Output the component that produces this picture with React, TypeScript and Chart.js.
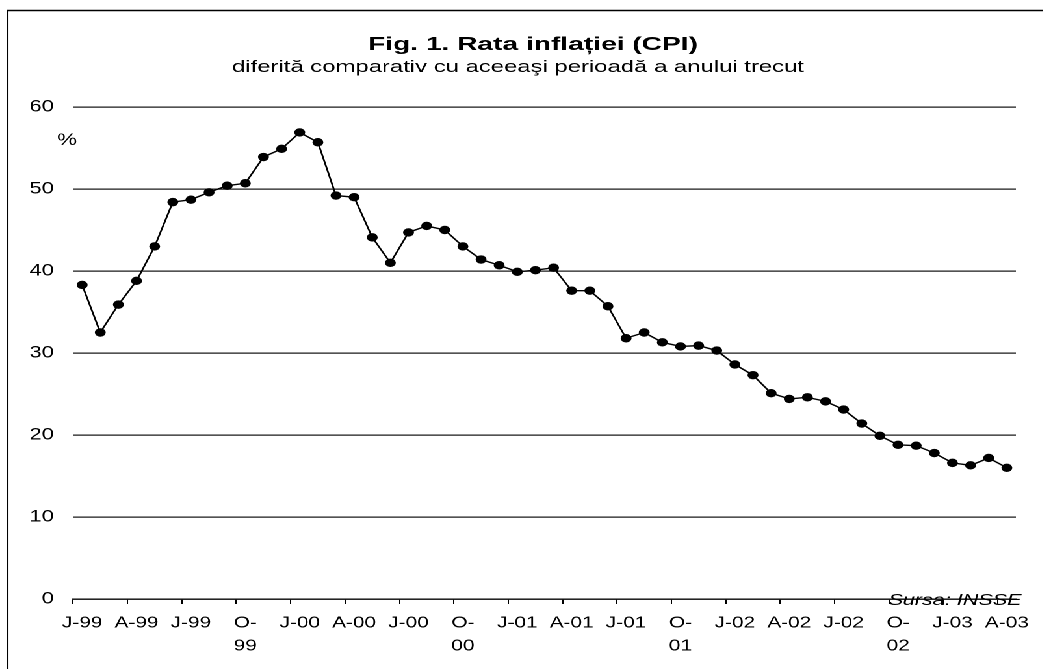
import React, { useEffect, useRef } from 'react';
import { Chart, registerables } from 'chart.js';

Chart.register(...registerables);

// horizontal stretch of the whole picture (the reference is horizontally stretched)
const S = 1.3;
const W = 802;
const H = 669;
const FONT = "Arial, 'Liberation Sans', sans-serif";

const titleText = 'Fig. 1. Rata inflației (CPI)';
const subtitleText = 'diferită comparativ cu aceeaşi perioadă a anului trecut';
const unitText = '%';
const sourceText = 'Sursa: INSSE';

// quarterly tick labels (one every 3 months, Jan 1999 .. Apr 2003)
const quarterLabels: (string | string[])[] = [
  'J-99', 'A-99', 'J-99', ['O-', '99'],
  'J-00', 'A-00', 'J-00', ['O-', '00'],
  'J-01', 'A-01', 'J-01', ['O-', '01'],
  'J-02', 'A-02', 'J-02', ['O-', '02'],
  'J-03', 'A-03',
];

// monthly CPI inflation, % y/y, Jan 1999 .. Apr 2003
const inflation = [
  38.3, 32.5, 35.9, 38.8, 43.0, 48.4, 48.7, 49.6, 50.4, 50.7, 53.9, 54.9,
  56.9, 55.7, 49.2, 49.0, 44.1, 41.0, 44.7, 45.5, 45.0, 43.0, 41.4, 40.7,
  39.9, 40.1, 40.4, 37.6, 37.6, 35.7, 31.8, 32.5, 31.3, 30.8, 30.9, 30.3,
  28.6, 27.3, 25.1, 24.4, 24.6, 24.1, 23.1, 21.4, 19.9, 18.8, 18.7, 17.8,
  16.6, 16.3, 17.2, 16.0,
];

const yMin = 0;
const yMax = 60;
const yStep = 10;

const categories: (string | string[])[] = inflation.map((_, i) =>
  i % 3 === 0 ? quarterLabels[i / 3] ?? '' : ''
);

function fitText(
  ctx: CanvasRenderingContext2D,
  text: string,
  font: string,
  cxFinal: number,
  baseline: number,
  widthFinal: number
) {
  ctx.save();
  ctx.font = font;
  const m = ctx.measureText(text).width;
  const e = widthFinal / S / m;
  ctx.translate(cxFinal / S, baseline);
  ctx.scale(e, 1);
  ctx.textAlign = 'center';
  ctx.textBaseline = 'alphabetic';
  ctx.fillStyle = '#000';
  ctx.fillText(text, 0, 0);
  ctx.restore();
}

const decorPlugin = {
  id: 'decor',
  beforeDraw(chart: any) {
    const ctx = chart.ctx as CanvasRenderingContext2D;
    ctx.save();
    ctx.fillStyle = '#fff';
    ctx.fillRect(0, 0, chart.width, chart.height);
    ctx.restore();
  },
  afterDraw(chart: any) {
    const ctx = chart.ctx as CanvasRenderingContext2D;
    ctx.save();
    ctx.strokeStyle = '#000';
    ctx.lineWidth = 1.5;
    ctx.strokeRect(7.5 / S, 10.5, chart.width + 100, chart.height + 100);
    ctx.restore();
    fitText(ctx, titleText, `bold 18px ${FONT}`, 533, 50, 330);
    fitText(ctx, subtitleText, `17px ${FONT}`, 518, 72, 572);
    fitText(ctx, unitText, `17px ${FONT}`, 67, 145, 20);
    fitText(ctx, sourceText, `italic 16px ${FONT}`, 955, 605, 133);
  },
};

export default function App() {
  const ref = useRef<HTMLCanvasElement | null>(null);

  useEffect(() => {
    document.body.style.overflow = 'hidden';
    const canvas = ref.current;
    if (!canvas) return;
    const chart = new Chart(canvas, {
      type: 'line',
      data: {
        labels: categories,
        datasets: [
          {
            data: inflation,
            borderColor: '#000',
            borderWidth: 1.4,
            backgroundColor: '#000',
            pointBackgroundColor: '#000',
            pointBorderColor: '#000',
            pointBorderWidth: 0,
            pointRadius: 4.2,
            tension: 0,
            fill: false,
          },
        ],
      },
      options: {
        animation: false,
        responsive: false,
        devicePixelRatio: 2,
        layout: { padding: { top: 107, right: 20.5, bottom: 0, left: 0 } },
        plugins: {
          legend: { display: false },
          tooltip: { enabled: false },
          title: { display: false },
        },
        scales: {
          x: {
            type: 'category',
            offset: true,
            afterFit: (scale: any) => {
              scale.height = 70;
            },
            grid: {
              display: true,
              offset: true,
              drawOnChartArea: false,
              drawTicks: true,
              tickLength: 5,
              lineWidth: 1,
              color: 'rgba(0,0,0,0)',
              tickColor: (c: any) => (c.index % 3 === 0 ? '#000' : 'rgba(0,0,0,0)'),
            },
            border: { display: true, color: '#000', width: 1.2 },
            ticks: {
              autoSkip: false,
              maxRotation: 0,
              minRotation: 0,
              padding: 7.5,
              color: '#000',
              font: { family: FONT, size: 16, lineHeight: 1.4375 },
            },
          },
          y: {
            min: yMin,
            max: yMax,
            afterFit: (scale: any) => {
              scale.width = 56.2;
            },
            grid: {
              color: '#1a1a1a',
              lineWidth: 1.2,
              drawTicks: false,
            },
            border: { display: false },
            ticks: {
              stepSize: yStep,
              padding: 14.7,
              color: '#000',
              font: { family: FONT, size: 17 },
            },
          },
        },
      },
      plugins: [decorPlugin],
    });
    return () => chart.destroy();
  }, []);

  return (
    <div
      style={{
        position: 'absolute',
        left: 0,
        top: 0,
        width: `${W}px`,
        height: `${H}px`,
        transform: `scaleX(${S})`,
        transformOrigin: '0 0',
        background: '#fff',
      }}
    >
      <canvas
        ref={ref}
        width={W}
        height={H}
        style={{ width: `${W}px`, height: `${H}px`, display: 'block' }}
      />
    </div>
  );
}
